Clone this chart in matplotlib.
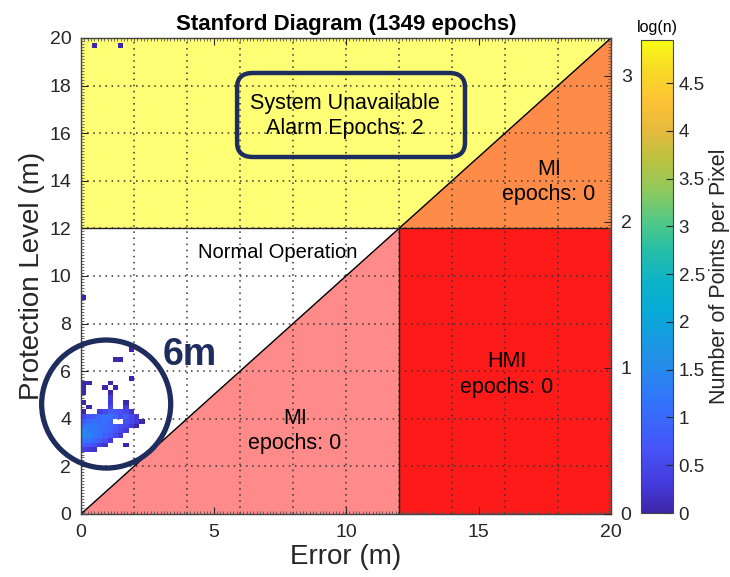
import numpy as np
import matplotlib
matplotlib.use('Agg')
import matplotlib.pyplot as plt
from matplotlib.colors import LinearSegmentedColormap
from matplotlib.patches import Polygon, Ellipse, FancyBboxPatch
from matplotlib.ticker import MultipleLocator

plt.rcParams['font.family'] = ['Liberation Sans', 'DejaVu Sans']

# ---------------- data ----------------
title = 'Stanford Diagram (1349 epochs)'
x_label = 'Error (m)'
y_label = 'Protection Level (m)'
cbar_label = 'Number of Points per Pixel'
cbar_title = 'log(n)'
alarm_limit = 12
axis_max = 20
bin_size = 0.2
x_ticks = [0, 5, 10, 15, 20]
y_ticks = [0, 2, 4, 6, 8, 10, 12, 14, 16, 18, 20]
grid_step = 2
right_ticks = [0, 1, 2, 3]
right_max = 3.26
cbar_ticks = [0, 0.5, 1, 1.5, 2, 2.5, 3, 3.5, 4, 4.5]
cbar_tick_labels = ['0', '0.5', '1', '1.5', '2', '2.5', '3', '3.5', '4', '4.5']
cbar_max = 4.95

region_text_normal = 'Normal Operation'
region_text_mi_low = 'MI\nepochs: 0'
region_text_mi_high = 'MI\nepochs: 0'
region_text_hmi = 'HMI\nepochs: 0'
region_text_unavail = 'System Unavailable\nAlarm Epochs: 2'
circle_text = '6m'

# histogram cells: left edge of error bin, lower edge of PL bin, log(n)
cell_err = [0.4, 1.4, 0.0,
            1.8,
            1.2, 1.4,
            1.8,
            0.0, 0.2, 1.0,
            0.0, 0.8, 1.2,
            0.0, 1.0,
            1.0,
            0.0, 1.0, 1.6,
            0.2, 1.0, 1.6,
            0.0, 0.6, 0.8, 1.0, 1.2, 1.4, 1.6, 1.8,
            0.0, 0.2, 0.4, 0.6, 0.8, 1.0, 1.2, 1.4, 1.6, 1.8, 2.0,
            0.0, 0.2, 0.4, 0.6, 0.8, 1.0, 1.6, 1.8, 2.0, 2.2,
            0.0, 0.2, 0.4, 0.6, 0.8, 1.0, 1.2, 1.4, 1.6, 1.8, 2.0,
            0.0, 0.2, 0.4, 0.6, 0.8, 1.0, 1.2, 1.4, 1.6,
            0.0, 0.2, 0.4, 0.6, 0.8, 1.0, 1.2, 1.4,
            0.0, 0.2, 0.4, 0.6, 0.8, 1.0,
            0.0, 0.2, 0.4, 0.6, 0.8, 1.6,
            0.0, 0.2, 0.4]
cell_pl = [19.6, 19.6, 9.0,
           6.8,
           6.4, 6.4,
           5.6,
           5.4, 5.4, 5.4,
           5.2, 5.2, 5.2,
           5.0, 5.0,
           4.8,
           4.6, 4.6, 4.6,
           4.4, 4.4, 4.4,
           4.2, 4.2, 4.2, 4.2, 4.2, 4.2, 4.2, 4.2,
           4.0, 4.0, 4.0, 4.0, 4.0, 4.0, 4.0, 4.0, 4.0, 4.0, 4.0,
           3.8, 3.8, 3.8, 3.8, 3.8, 3.8, 3.8, 3.8, 3.8, 3.8,
           3.6, 3.6, 3.6, 3.6, 3.6, 3.6, 3.6, 3.6, 3.6, 3.6, 3.6,
           3.4, 3.4, 3.4, 3.4, 3.4, 3.4, 3.4, 3.4, 3.4,
           3.2, 3.2, 3.2, 3.2, 3.2, 3.2, 3.2, 3.2,
           3.0, 3.0, 3.0, 3.0, 3.0, 3.0,
           2.8, 2.8, 2.8, 2.8, 2.8, 2.8,
           2.6, 2.6, 2.6]
cell_logn = [0.0, 0.0, 0.0,
             0.0,
             0.0, 0.0,
             0.0,
             0.0, 0.0, 0.0,
             0.0, 0.0, 0.0,
             0.0, 0.0,
             0.3,
             0.0, 0.3, 0.0,
             0.0, 0.5, 0.3,
             0.0, 0.3, 0.5, 0.8, 0.7, 0.6, 0.5, 0.2,
             0.5, 0.7, 0.8, 1.0, 1.1, 1.1, 0.9, 0.6, 0.8, 0.5, 0.3,
             0.8, 1.0, 1.1, 1.0, 1.1, 0.9, 0.6, 0.5, 0.3, 0.0,
             1.1, 1.2, 1.2, 1.1, 1.1, 0.9, 0.8, 0.6, 0.5, 0.3, 0.0,
             1.4, 1.3, 1.2, 1.1, 1.0, 0.9, 0.7, 0.5, 0.3,
             1.5, 1.4, 1.2, 1.1, 0.9, 0.7, 0.5, 0.3,
             1.2, 1.1, 1.0, 0.8, 0.6, 0.3,
             0.8, 0.7, 0.6, 0.4, 0.2, 0.0,
             0.4, 0.3, 0.2]

# ---------------- styles ----------------
navy = '#1F2D5E'
c_yellow = '#FFFF75'
c_orange = '#FF8B48'
c_red = '#FF1A1A'
c_pink = '#FF8A8A'

parula_pts = [
    (0.00, (0.2422, 0.1504, 0.6603)),
    (0.06, (0.2670, 0.2270, 0.8580)),
    (0.14, (0.2760, 0.3330, 0.9800)),
    (0.24, (0.1900, 0.4600, 0.9800)),
    (0.33, (0.1300, 0.5700, 0.9000)),
    (0.43, (0.0300, 0.6700, 0.8400)),
    (0.49, (0.0500, 0.7000, 0.7800)),
    (0.56, (0.1600, 0.7500, 0.6500)),
    (0.62, (0.3300, 0.7900, 0.5200)),
    (0.68, (0.5600, 0.7900, 0.3700)),
    (0.75, (0.7400, 0.7600, 0.2500)),
    (0.81, (0.9000, 0.7300, 0.2400)),
    (0.87, (0.9900, 0.7600, 0.2100)),
    (0.94, (0.9700, 0.8600, 0.1500)),
    (1.00, (0.9769, 0.9839, 0.0805)),
]
parula = LinearSegmentedColormap.from_list('parula', parula_pts)

fig = plt.figure(figsize=(7.3, 5.77), dpi=100)
ax = fig.add_axes([81/730, 63/577, 530/730, 476/577])

A = alarm_limit
M = axis_max
# regions
ax.add_patch(Polygon([(0, A), (A, A), (M, M), (0, M)], closed=True, fc=c_yellow, ec='none', zorder=0))
ax.add_patch(Polygon([(A, A), (M, A), (M, M)], closed=True, fc=c_orange, ec='none', zorder=0))
ax.add_patch(Polygon([(A, 0), (M, 0), (M, A), (A, A)], closed=True, fc=c_red, ec='none', zorder=0))
ax.add_patch(Polygon([(0, 0), (A, 0), (A, A)], closed=True, fc=c_pink, ec='none', zorder=0))

# grid
for g in np.arange(grid_step, M, grid_step):
    ax.axvline(g, color='#333333', lw=1.1, ls=(0, (1, 3)), zorder=1)
    ax.axhline(g, color='#333333', lw=1.1, ls=(0, (1, 3)), zorder=1)

# boundary lines
ax.plot([0, M], [0, M], color='black', lw=1.0, zorder=2)
ax.plot([0, M], [A, A], color='#222222', lw=1.0, zorder=2)
ax.plot([A, A], [0, A], color='#222222', lw=1.0, zorder=2)

# histogram
edges = np.arange(0, M + bin_size / 2, bin_size)
nb = len(edges) - 1
Z = np.full((nb, nb), np.nan)
for e, p, v in zip(cell_err, cell_pl, cell_logn):
    Z[int(round(p / bin_size)), int(round(e / bin_size))] = v
Zm = np.ma.masked_invalid(Z)
mesh = ax.pcolormesh(edges, edges, Zm, cmap=parula, vmin=0, vmax=cbar_max, zorder=3)

ax.set_xlim(0, M)
ax.set_ylim(0, M)
ax.set_xticks(x_ticks)
ax.set_yticks(y_ticks)
ax.xaxis.set_minor_locator(MultipleLocator(0.125))
ax.yaxis.set_minor_locator(MultipleLocator(0.125))
ax.tick_params(which='major', direction='in', length=5, labelsize=14, colors='#262626', pad=7)
ax.tick_params(which='minor', direction='in', length=2, width=0.6, color='#555555')
ax.tick_params(top=True, which='both')
for s in ax.spines.values():
    s.set_color('#444444')
    s.set_linewidth(1.0)
    s.set_zorder(5)

ax.set_xlabel(x_label, fontsize=20, color='#262626', labelpad=2)
ax.set_ylabel(y_label, fontsize=20, color='#262626', labelpad=3)
ax.set_title(title, fontsize=16, fontweight='bold', color='black', pad=6)

# right axis
ax2 = ax.twinx()
ax2.set_ylim(0, right_max)
ax2.set_yticks(right_ticks)
ax2.yaxis.set_minor_locator(MultipleLocator(0.02))
ax2.tick_params(which='major', direction='in', length=5, labelsize=14, colors='#262626', pad=7)
ax2.tick_params(which='minor', direction='in', length=2, width=0.6, color='#555555')
for s in ax2.spines.values():
    s.set_visible(False)

# texts
ax.text(7.43, 10.97, region_text_normal, fontsize=14.5, ha='center', va='center', zorder=6)
ax.text(8.08, 3.49, region_text_mi_low, fontsize=15.5, ha='center', va='center', linespacing=1.3, zorder=6)
ax.text(17.66, 13.95, region_text_mi_high, fontsize=15.5, ha='center', va='center', linespacing=1.3, zorder=6)
ax.text(16.08, 5.86, region_text_hmi, fontsize=15.5, ha='center', va='center', linespacing=1.3, zorder=6)
ax.text(9.96, 16.72, region_text_unavail, fontsize=15.5, ha='center', va='center', linespacing=1.3, zorder=6)
ax.add_patch(FancyBboxPatch((5.89, 15.0), 8.6, 3.53, boxstyle='round,pad=0,rounding_size=0.6',
                            fc='none', ec=navy, lw=3.2, zorder=6))
ax.add_patch(Ellipse((0.95, 4.62), 4.87, 5.38, fill=False, ec=navy, lw=3.8, clip_on=False, zorder=7))
ax.text(4.11, 6.68, circle_text, fontsize=27, fontweight='bold', color=navy, ha='center', va='center', zorder=7)

# colorbar
cax = fig.add_axes([641/730, 64/577, 32/730, 473/577])
cb = fig.colorbar(mesh, cax=cax)
cb.set_ticks(cbar_ticks)
cb.set_ticklabels(cbar_tick_labels)
cax.tick_params(direction='in', length=5, labelsize=13.5, colors='#262626', pad=4)
cb.outline.set_edgecolor('#444444')
cb.set_label(cbar_label, fontsize=15.5, color='#262626', labelpad=3)
cax.set_title(cbar_title, fontsize=11.5, pad=6)

fig.savefig('out.png', dpi=100)
